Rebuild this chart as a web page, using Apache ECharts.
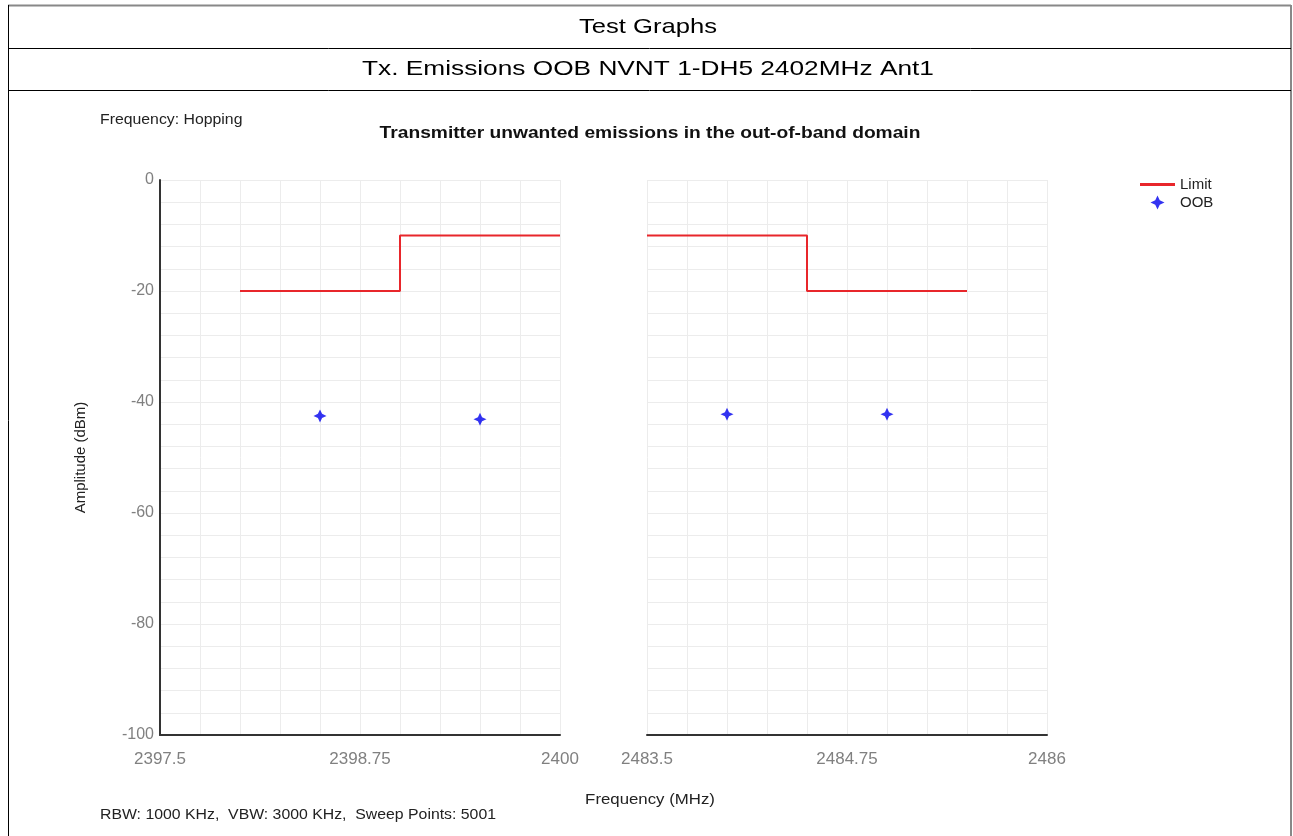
<!DOCTYPE html>
<html>
<head>
<meta charset="utf-8">
<script src="https://cdn.jsdelivr.net/npm/echarts@6/dist/echarts.min.js"></script>
<style>
html,body{margin:0;padding:0;background:#fff;}
#chart{width:1293px;height:836px;}
</style>
</head>
<body>
<div id="chart"></div>
<script>
// ---- data ----
const limitLeftFreq = [2398.0, 2399.0, 2399.0, 2400.0];
const limitLeftVal = [-20, -20, -10, -10];
const limitRightFreq = [2483.5, 2484.5, 2484.5, 2485.5];
const limitRightVal = [-10, -10, -20, -20];
const oobLeftFreq = [2398.5, 2399.5];
const oobLeftVal = [-42.5, -43.1];
const oobRightFreq = [2484.0, 2485.0];
const oobRightVal = [-42.2, -42.2];
const xLeftRange = [2397.5, 2400];
const xRightRange = [2483.5, 2486];
const xTickStep = 1.25;
const yRange = [-100, 0];
const yTickStep = 20;

const pair = (xs, ys) => xs.map((x, i) => [x, ys[i]]);

const FONT = '"Liberation Sans", Arial, sans-serif';
const starPath = 'path://M0,-10 L3.2,-3.2 L10,0 L3.2,3.2 L0,10 L-3.2,3.2 L-10,0 L-3.2,-3.2 Z';
const LIMIT_COLOR = '#e8262b';
const OOB_COLOR = '#0000ee';
const GRID_COLOR = '#ececec';

const chart = echarts.init(document.getElementById('chart'));

function xAxisCfg(idx, range) {
  return {
    type: 'value', gridIndex: idx, min: range[0], max: range[1], interval: xTickStep,
    axisLine: {show: true, onZero: false, lineStyle: {color: '#333', width: 2}},
    axisTick: {show: false},
    axisLabel: {color: '#808080', fontSize: 17, fontFamily: FONT, margin: 16,
      formatter: v => String(Math.round(v * 100) / 100)},
    splitLine: {show: true, lineStyle: {color: GRID_COLOR, width: 1}},
    minorTick: {show: false, splitNumber: 5},
    minorSplitLine: {show: true, lineStyle: {color: GRID_COLOR, width: 1}}
  };
}
function yAxisCfg(idx, showAxis) {
  return {
    type: 'value', gridIndex: idx, min: yRange[0], max: yRange[1], interval: yTickStep,
    name: showAxis ? 'Amplitude (dBm)' : '',
    nameLocation: 'middle', nameRotate: 90, nameGap: 72,
    nameTextStyle: {color: '#222', fontSize: 15, fontFamily: FONT},
    axisLine: {show: showAxis, lineStyle: {color: '#333', width: 2}},
    axisTick: {show: false},
    axisLabel: {show: showAxis, color: '#808080', fontSize: 16, fontFamily: FONT, margin: 6},
    splitLine: {show: true, lineStyle: {color: GRID_COLOR, width: 1}},
    minorTick: {show: false, splitNumber: 5},
    minorSplitLine: {show: true, lineStyle: {color: GRID_COLOR, width: 1}}
  };
}

function txt(str, x, y, size, scaleX, opts) {
  opts = opts || {};
  return {
    type: 'text', x: x, y: y, scaleX: scaleX,
    style: {
      text: str, fontSize: size, fill: opts.fill || '#222', fontFamily: FONT,
      fontWeight: opts.bold ? 'bold' : 'normal',
      align: opts.align || 'left', verticalAlign: 'middle',
      textAlign: opts.align || 'left', textVerticalAlign: 'middle'
    }
  };
}

const option = {
  animation: false,
  backgroundColor: '#fff',
  legend: {
    orient: 'vertical', left: 1135, top: 172, itemGap: 3,
    itemWidth: 35, itemHeight: 14,
    textStyle: {fontSize: 15, color: '#222', fontFamily: FONT},
    data: [
      {name: 'Limit', icon: 'path://M0,0 L34,0 L34,3 L0,3 Z', itemStyle: {color: LIMIT_COLOR}},
      {name: 'OOB'}
    ]
  },
  grid: [
    {left: 160, top: 180, width: 400, height: 555},
    {left: 647, top: 180, width: 400, height: 555}
  ],
  xAxis: [xAxisCfg(0, xLeftRange), xAxisCfg(1, xRightRange)],
  yAxis: [yAxisCfg(0, true), yAxisCfg(1, false)],
  series: [
    {name: 'Limit', type: 'line', xAxisIndex: 0, yAxisIndex: 0, data: pair(limitLeftFreq, limitLeftVal),
      symbol: 'none', lineStyle: {color: LIMIT_COLOR, width: 2}, itemStyle: {color: LIMIT_COLOR}},
    {name: 'Limit', type: 'line', xAxisIndex: 1, yAxisIndex: 1, data: pair(limitRightFreq, limitRightVal),
      symbol: 'none', lineStyle: {color: LIMIT_COLOR, width: 2}, itemStyle: {color: LIMIT_COLOR}},
    {name: 'OOB', type: 'scatter', xAxisIndex: 0, yAxisIndex: 0, data: pair(oobLeftFreq, oobLeftVal),
      symbol: starPath, symbolSize: 13, itemStyle: {color: OOB_COLOR}},
    {name: 'OOB', type: 'scatter', xAxisIndex: 1, yAxisIndex: 1, data: pair(oobRightFreq, oobRightVal),
      symbol: starPath, symbolSize: 13, itemStyle: {color: OOB_COLOR}}
  ],
  graphic: [
    // table borders
    {type: 'line', shape: {x1: 8, y1: 5.5, x2: 1291, y2: 5.5}, style: {stroke: '#888', lineWidth: 2}},
    {type: 'line', shape: {x1: 8.5, y1: 5, x2: 8.5, y2: 836}, style: {stroke: '#000', lineWidth: 1}},
    {type: 'line', shape: {x1: 1291, y1: 5, x2: 1291, y2: 836}, style: {stroke: '#888', lineWidth: 2}},
    {type: 'line', shape: {x1: 8, y1: 48.5, x2: 1291, y2: 48.5}, style: {stroke: '#000', lineWidth: 1}},
    {type: 'line', shape: {x1: 8, y1: 90.5, x2: 1291, y2: 90.5}, style: {stroke: '#000', lineWidth: 1}},
    txt('Test Graphs', 648, 27, 21, 1.22, {align: 'center', fill: '#000'}),
    txt('Tx. Emissions OOB NVNT 1-DH5 2402MHz Ant1', 648, 69, 21, 1.25, {align: 'center', fill: '#000'}),
    txt('Frequency: Hopping', 100, 120, 14, 1.13),
    txt('Transmitter unwanted emissions in the out-of-band domain', 650, 134, 16, 1.2, {align: 'center', bold: true, fill: '#111'}),
    txt('Frequency (MHz)', 650, 800, 15, 1.12, {align: 'center'}),
    txt('RBW: 1000 KHz,  VBW: 3000 KHz,  Sweep Points: 5001', 100, 815, 14, 1.13)
  ]
};
chart.setOption(option);
</script>
</body>
</html>
